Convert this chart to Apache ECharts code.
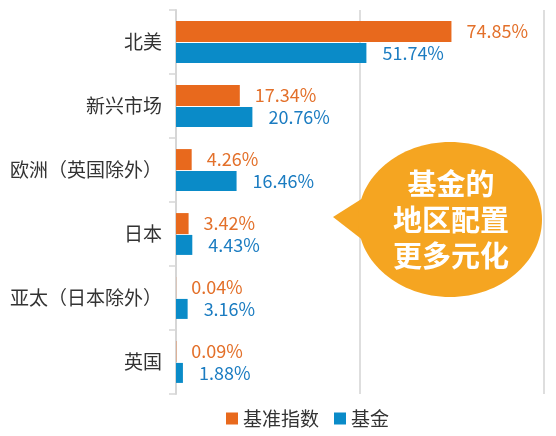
<!DOCTYPE html>
<html>
<head>
<meta charset="utf-8">
<script src="https://cdn.jsdelivr.net/npm/echarts@6/dist/echarts.min.js"></script>
<style>
html,body{margin:0;padding:0;background:#fff;}
#c{width:556px;height:436px;}
</style>
</head>
<body>
<div id="c"></div>
<script>
var categories = ['北美', '新兴市场', '欧洲（英国除外）', '日本', '亚太（日本除外）', '英国'];
var benchmark = [74.85, 17.34, 4.26, 3.42, 0.04, 0.09];
var fund = [51.74, 20.76, 16.46, 4.43, 3.16, 1.88];
var seriesNames = ['基准指数', '基金'];
var bubbleText = ['基金的', '地区配置', '更多元化'];

var FONT = '"Noto Sans CJK SC", "Noto Sans", sans-serif';
var ORANGE = '#E8691D';
var BLUE = '#0A8BC8';
var chart = echarts.init(document.getElementById('c'));
chart.setOption({
  animation: false,
  textStyle: { fontFamily: FONT },
  grid: { left: 176, right: 12, top: 10, bottom: 42, containLabel: false },
  legend: {
    data: seriesNames,
    left: 221, top: 404,
    icon: 'rect', itemWidth: 12, itemHeight: 12, itemGap: 15, itemTextGap: 6,
    textStyle: { fontFamily: FONT, fontSize: 19, color: '#333' }
  },
  xAxis: {
    type: 'value', min: 0, max: 100, interval: 50,
    axisLine: { show: false }, axisTick: { show: false }, axisLabel: { show: false },
    splitLine: { show: true, lineStyle: { color: '#dedede', width: 2 } }
  },
  yAxis: {
    type: 'category', data: categories, inverse: true,
    axisLine: { show: true, lineStyle: { color: '#d6d6d6', width: 2 } },
    axisTick: { show: true, length: 7, lineStyle: { color: '#d6d6d6', width: 1.5 } },
    axisLabel: { fontFamily: FONT, fontSize: 19, color: '#333', margin: 14 }
  },
  series: [
    {
      name: seriesNames[0], type: 'bar', data: benchmark,
      barWidth: 21, barGap: '4%',
      itemStyle: { color: ORANGE },
      label: { show: true, position: 'right', distance: 15, formatter: function (p) { return p.value.toFixed(2) + '%'; },
        fontFamily: FONT, fontSize: 18, color: '#E3702A' }
    },
    {
      name: seriesNames[1], type: 'bar', data: fund,
      barWidth: 20,
      itemStyle: { color: BLUE },
      label: { show: true, position: 'right', distance: 16, formatter: function (p) { return p.value.toFixed(2) + '%'; },
        fontFamily: FONT, fontSize: 18, color: '#1B7CC1' }
    }
  ],
  graphic: [
    { type: 'polygon', z: 100, shape: { points: [[333, 217], [382, 186], [382, 255]] }, style: { fill: '#F5A521' } },
    { type: 'ellipse', z: 100, shape: { cx: 450, cy: 219.5, rx: 92, ry: 77.5 }, style: { fill: '#F5A521' } },
    { type: 'text', z: 101, x: 451, y: 220, style: { text: bubbleText.join('\n'), fill: '#fff', font: 'bold 29px ' + FONT, align: 'center', verticalAlign: 'middle', lineHeight: 36 } }
  ]
});
</script>
</body>
</html>
